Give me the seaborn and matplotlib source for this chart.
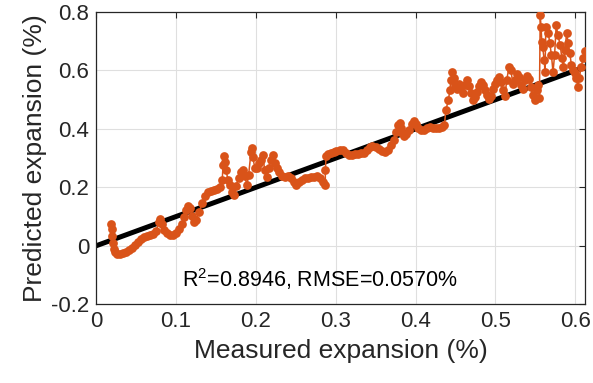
import matplotlib
matplotlib.use("Agg")
import matplotlib.pyplot as plt
import seaborn as sns
import pandas as pd

# ---- data ----
measured = [0.019, 0.020, 0.020, 0.021, 0.022, 0.024, 0.026, 0.030, 0.034, 0.038,
            0.041, 0.045, 0.049, 0.053, 0.056, 0.060, 0.064, 0.068, 0.071, 0.075,
            0.079, 0.080, 0.083, 0.085, 0.089, 0.093, 0.096, 0.100, 0.104, 0.108,
            0.110, 0.113, 0.115, 0.118, 0.120, 0.123, 0.125, 0.129, 0.133, 0.136,
            0.140, 0.144, 0.148, 0.151, 0.155, 0.158, 0.159, 0.160, 0.161, 0.163,
            0.165, 0.168, 0.170, 0.173, 0.175, 0.179, 0.181, 0.184, 0.186, 0.189,
            0.191, 0.194, 0.195, 0.196, 0.199, 0.201, 0.204, 0.206, 0.209, 0.211,
            0.214, 0.216, 0.219, 0.222, 0.224, 0.226, 0.229, 0.233, 0.237, 0.240,
            0.244, 0.248, 0.250, 0.254, 0.258, 0.262, 0.265, 0.269, 0.273, 0.277,
            0.280, 0.284, 0.287, 0.287, 0.288, 0.290, 0.294, 0.298, 0.301, 0.305,
            0.309, 0.313, 0.317, 0.320, 0.324, 0.328, 0.332, 0.335, 0.339, 0.343,
            0.346, 0.350, 0.354, 0.358, 0.362, 0.365, 0.369, 0.373, 0.375, 0.378,
            0.380, 0.382, 0.383, 0.385, 0.388, 0.392, 0.395, 0.398, 0.400, 0.403,
            0.407, 0.410, 0.414, 0.418, 0.422, 0.426, 0.429, 0.433, 0.436, 0.438,
            0.441, 0.443, 0.444, 0.446, 0.448, 0.449, 0.452, 0.454, 0.457, 0.459,
            0.462, 0.464, 0.467, 0.469, 0.472, 0.474, 0.477, 0.479, 0.482, 0.484,
            0.487, 0.489, 0.492, 0.494, 0.497, 0.499, 0.502, 0.504, 0.507, 0.509,
            0.512, 0.514, 0.517, 0.519, 0.522, 0.524, 0.527, 0.529, 0.532, 0.534,
            0.537, 0.539, 0.542, 0.544, 0.547, 0.549, 0.552, 0.553, 0.555, 0.556,
            0.557, 0.558, 0.559, 0.561, 0.562, 0.563, 0.566, 0.568, 0.570, 0.572,
            0.574, 0.576, 0.578, 0.581, 0.583, 0.585, 0.587, 0.589, 0.591, 0.593,
            0.595, 0.597, 0.599, 0.601, 0.603, 0.605, 0.607, 0.610, 0.612]
predicted = [0.074, 0.057, 0.033, 0.009, -0.011, -0.022, -0.028, -0.028, -0.025, -0.022,
             -0.015, -0.008, 0.002, 0.013, 0.023, 0.030, 0.033, 0.037, 0.040, 0.050,
             0.081, 0.091, 0.074, 0.054, 0.043, 0.037, 0.037, 0.043, 0.057, 0.074,
             0.098, 0.122, 0.136, 0.129, 0.102, 0.081, 0.088, 0.115, 0.146, 0.170,
             0.184, 0.187, 0.191, 0.194, 0.201, 0.225, 0.276, 0.307, 0.287, 0.259,
             0.225, 0.208, 0.184, 0.174, 0.205, 0.232, 0.252, 0.259, 0.239, 0.208,
             0.242, 0.321, 0.335, 0.304, 0.266, 0.266, 0.283, 0.293, 0.311, 0.259,
             0.235, 0.266, 0.293, 0.311, 0.283, 0.266, 0.252, 0.239, 0.235, 0.239,
             0.232, 0.218, 0.208, 0.218, 0.225, 0.232, 0.232, 0.235, 0.235, 0.239,
             0.232, 0.218, 0.208, 0.259, 0.307, 0.314, 0.317, 0.321, 0.324, 0.328,
             0.328, 0.317, 0.311, 0.311, 0.314, 0.314, 0.317, 0.317, 0.328, 0.338,
             0.342, 0.338, 0.331, 0.324, 0.321, 0.328, 0.345, 0.362, 0.389, 0.413,
             0.420, 0.403, 0.386, 0.376, 0.382, 0.396, 0.417, 0.427, 0.417, 0.403,
             0.396, 0.396, 0.403, 0.407, 0.403, 0.403, 0.403, 0.407, 0.413, 0.465,
             0.499, 0.533, 0.567, 0.595, 0.574, 0.550, 0.537, 0.554, 0.547, 0.523,
             0.550, 0.567, 0.547, 0.523, 0.499, 0.509, 0.526, 0.547, 0.561, 0.550,
             0.533, 0.516, 0.502, 0.513, 0.537, 0.554, 0.567, 0.578, 0.561, 0.533,
             0.513, 0.567, 0.612, 0.602, 0.554, 0.567, 0.588, 0.578, 0.550, 0.537,
             0.567, 0.581, 0.571, 0.543, 0.516, 0.499, 0.533, 0.550, 0.506, 0.790,
             0.749, 0.698, 0.680, 0.636, 0.595, 0.749, 0.728, 0.694, 0.653, 0.595,
             0.653, 0.756, 0.722, 0.687, 0.643, 0.612, 0.670, 0.728, 0.694, 0.660,
             0.619, 0.602, 0.591, 0.574, 0.543, 0.574, 0.612, 0.643, 0.667]
ref_line = [0.0, 0.6124]
x_ticks = [0, 0.1, 0.2, 0.3, 0.4, 0.5, 0.6]
x_tick_labels = ["0", "0.1", "0.2", "0.3", "0.4", "0.5", "0.6"]
y_ticks = [-0.2, 0, 0.2, 0.4, 0.6, 0.8]
y_tick_labels = ["-0.2", "0", "0.2", "0.4", "0.6", "0.8"]
x_label = "Measured expansion (%)"
y_label = "Predicted expansion (%)"
annotation = r"$\mathregular{R^2}$=0.8946, RMSE=0.0570%"

df = pd.DataFrame({"measured": measured, "predicted": predicted})
ref_df = pd.DataFrame({"x": ref_line, "y": ref_line})

sns.set_theme(style="white")
plt.rcParams["font.family"] = ["Liberation Sans", "DejaVu Sans"]
plt.rcParams["mathtext.fontset"] = "custom"
plt.rcParams["mathtext.rm"] = "Liberation Sans"

axis_col = "#262626"
fig = plt.figure(figsize=(5.93, 3.83), dpi=100)
ax = fig.add_axes([0.1619, 0.2055, 0.8251, 0.7632])

sns.lineplot(data=ref_df, x="x", y="y", color="black", linewidth=3.6, ax=ax, zorder=2)
sns.lineplot(data=df, x="measured", y="predicted", sort=False, estimator=None,
             color="#D95319", linewidth=1.1, marker="o", markersize=6.3,
             markeredgewidth=0, ax=ax, zorder=3)

ax.set_xlim(0, 0.6124)
ax.set_ylim(-0.2, 0.8)
ax.set_xticks(x_ticks)
ax.set_xticklabels(x_tick_labels)
ax.set_yticks(y_ticks)
ax.set_yticklabels(y_tick_labels)
ax.grid(True, color="#dfdfdf", linewidth=0.8)
ax.set_axisbelow(True)
for s in ax.spines.values():
    s.set_color(axis_col)
    s.set_linewidth(0.9)
    s.set_visible(True)
ax.tick_params(direction="in", length=4, width=0.8, colors=axis_col,
               labelsize=16, top=True, right=True, pad=5)
ax.set_xlabel(x_label, fontsize=19, color=axis_col, labelpad=5)
ax.set_ylabel(y_label, fontsize=19, color=axis_col, labelpad=3)

ax.text(0.1076, -0.141, annotation, fontsize=15.5, color="black", ha="left", va="baseline")

fig.savefig("out.png", dpi=100)
